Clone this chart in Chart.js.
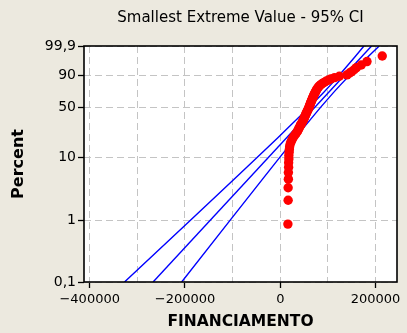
<!DOCTYPE html>
<html><head><meta charset="utf-8">
<script src="https://cdn.jsdelivr.net/npm/chart.js@4/dist/chart.umd.min.js"></script>
<style>html,body{margin:0;padding:0;background:#ECE9DF;overflow:hidden}</style>
</head><body>
<canvas id="c" width="407" height="333" style="display:block;width:407px;height:333px"></canvas>
<script>
// Sorted FINANCIAMENTO sample values
const financiamento = [
  16000,16500,16500,17000,17000,17500,17500,18000,18000,18500,
  19000,19500,20500,22000,24000,26000,28500,31000,33500,36000,
  37500,39000,40500,42000,43500,45000,46500,48000,49000,50000,
  51000,52000,53000,54000,55000,56000,57000,58000,59000,60000,
  60700,61400,62100,62800,63500,64300,65100,65900,66700,67500,
  68300,69100,69900,70700,71500,72500,73500,74500,75500,76500,
  78000,79500,81000,83000,85500,88500,92000,96000,101000,106000,
  114000,124000,140000,145000,150000,155000,160000,170000,182000,214000
];
// Fitted line (percent, value)
const fitPercent = [0.1, 99.9];
const fitValue = [-267000, 191600];
// 95% confidence bands
const ciPercent = [0.1, 1, 5, 10, 20, 30, 50, 70, 80, 90, 99, 99.9];
const ciLower  = [-327000, -189100, -92000, -49300, -5100, 22200, 60200, 90400, 105700, 123700, 156900, 175600];
const ciUpper  = [-207000, -105500, -33500, -1500, 32200, 53500, 84500, 111500, 126400, 145500, 184200, 207600];
// Axis ticks
const percentTicks = [0.1, 1, 10, 50, 90, 99.9];
const percentTickLabels = ['0,1', '1', '10', '50', '90', '99,9'];
const xTickValues = [-400000, -300000, -200000, -100000, 0, 100000, 200000];
const xTickLabels = ['\u2212400000', '', '\u2212200000', '', '0', '', '200000'];

const toW = p => Math.log(-Math.log(1 - p / 100));
const n = financiamento.length;
const pts = financiamento.map((v, i) => ({x: v, y: toW((i + 1 - 0.3) / (n + 0.4) * 100)}));
const fitPts = fitPercent.map((p, i) => ({x: fitValue[i], y: toW(p)}));
const loPts = ciPercent.map((p, i) => ({x: ciLower[i], y: toW(p)}));
const hiPts = ciPercent.map((p, i) => ({x: ciUpper[i], y: toW(p)}));

const frame = {
  id: 'frame',
  beforeDraw(chart) {
    const c = chart.ctx, a = chart.chartArea;
    c.save();
    c.fillStyle = '#ECE9DF';
    c.fillRect(0, 0, chart.width, chart.height);
    c.fillStyle = '#FFFFFF';
    c.fillRect(a.left, a.top, a.right - a.left, a.bottom - a.top);
    c.restore();
  },
  afterDraw(chart) {
    const c = chart.ctx, a = chart.chartArea;
    c.save();
    c.strokeStyle = '#000';
    c.lineWidth = 1.6;
    c.strokeRect(a.left, a.top, a.right - a.left, a.bottom - a.top);
    c.restore();
  }
};

const lineDs = (data) => ({type: 'line', data, borderColor: '#0000FF', borderWidth: 1.4,
  pointRadius: 0, fill: false, tension: 0, order: 1});

new Chart(document.getElementById('c'), {
  type: 'scatter',
  data: {datasets: [
    {data: pts, backgroundColor: '#FF0000', borderColor: '#FF0000', borderWidth: 0, pointRadius: 4.7, order: 0},
    lineDs(fitPts), lineDs(loPts), lineDs(hiPts)
  ]},
  options: {
    responsive: false, animation: false, devicePixelRatio: 1,
    layout: {padding: {left: 0, right: 10, top: 0, bottom: 0}},
    plugins: {
      legend: {display: false}, tooltip: {enabled: false},
      title: {display: true, text: 'Smallest Extreme Value - 95% CI', fullSize: false,
        color: '#000', font: {family: 'DejaVu Sans', size: 15, weight: 'normal'},
        padding: {top: 9.5, bottom: 18.5}}
    },
    scales: {
      x: {
        type: 'linear', min: -412000, max: 245000,
        afterBuildTicks: s => { s.ticks = xTickValues.map(v => ({value: v})); },
        afterFit: s => { s.height = 51; },
        ticks: {autoSkip: false, maxRotation: 0, padding: 4, color: '#000',
          font: {family: 'DejaVu Sans', size: 13},
          callback: (v, i) => xTickLabels[i]},
        grid: {color: '#C4C4C4', lineWidth: 1, tickLength: 6, tickWidth: 1.3, tickBorderDash: [],
          tickColor: ctx => (ctx.tick && ctx.tick.value % 200000 === 0) ? '#000' : 'rgba(0,0,0,0)'},
        border: {display: false, dash: [7, 4]},
        title: {display: true, text: 'FINANCIAMENTO', color: '#000',
          font: {family: 'DejaVu Sans', size: 15.5, weight: 'bold'}, padding: {top: 0, bottom: 2}}
      },
      y: {
        type: 'linear', min: toW(0.1), max: toW(99.9),
        afterBuildTicks: s => { s.ticks = percentTicks.map(p => ({value: toW(p)})); },
        afterFit: s => { s.width = 84; },
        ticks: {autoSkip: false, padding: 2, color: '#000',
          font: {family: 'DejaVu Sans', size: 14},
          callback: (v, i) => percentTickLabels[i]},
        grid: {color: '#C4C4C4', lineWidth: 1, tickLength: 6, tickWidth: 1.3, tickColor: '#000', tickBorderDash: []},
        border: {display: false, dash: [7, 4]},
        title: {display: true, text: 'Percent', color: '#000',
          font: {family: 'DejaVu Sans', size: 16, weight: 'bold'}, padding: {top: 9.4, bottom: 0}}
      }
    }
  },
  plugins: [frame]
});
</script>
</body></html>
